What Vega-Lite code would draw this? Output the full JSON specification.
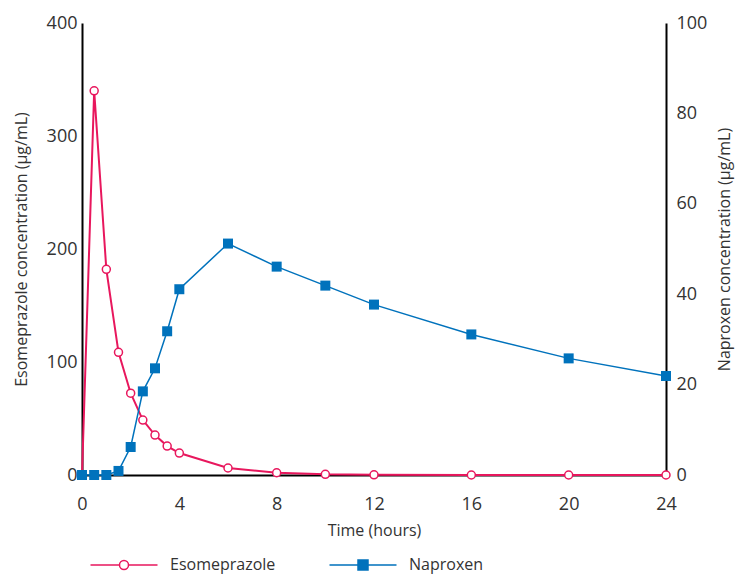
{
  "$schema": "https://vega.github.io/schema/vega-lite/v6.json",
  "width": 584,
  "height": 452,
  "autosize": "none",
  "padding": {"left": 82, "top": 23, "right": 69, "bottom": 100},
  "config": {
    "font": "Open Sans",
    "view": {"stroke": null},
    "axis": {
      "grid": false,
      "ticks": false,
      "labelFlush": false,
      "domainColor": "#000000",
      "domainWidth": 2,
      "labelColor": "#333333",
      "labelFontSize": 18,
      "titleFontSize": 16,
      "titleColor": "#333333",
      "titleFontWeight": "normal"
    }
  },
  "data": {
    "values": [
      {"drug": "Esomeprazole", "time": 0, "conc": 0},
      {"drug": "Esomeprazole", "time": 0.5, "conc": 340},
      {"drug": "Esomeprazole", "time": 1, "conc": 182},
      {"drug": "Esomeprazole", "time": 1.5, "conc": 108.6},
      {"drug": "Esomeprazole", "time": 2, "conc": 72.4},
      {"drug": "Esomeprazole", "time": 2.5, "conc": 48.6},
      {"drug": "Esomeprazole", "time": 3, "conc": 35.3},
      {"drug": "Esomeprazole", "time": 3.5, "conc": 25.6},
      {"drug": "Esomeprazole", "time": 4, "conc": 19.4},
      {"drug": "Esomeprazole", "time": 6, "conc": 6.2},
      {"drug": "Esomeprazole", "time": 8, "conc": 2},
      {"drug": "Esomeprazole", "time": 10, "conc": 0.6},
      {"drug": "Esomeprazole", "time": 12, "conc": 0.2},
      {"drug": "Esomeprazole", "time": 16, "conc": 0},
      {"drug": "Esomeprazole", "time": 20, "conc": 0},
      {"drug": "Esomeprazole", "time": 24, "conc": 0},
      {"drug": "Naproxen", "time": 0, "conc": 0},
      {"drug": "Naproxen", "time": 0.5, "conc": 0},
      {"drug": "Naproxen", "time": 1, "conc": 0},
      {"drug": "Naproxen", "time": 1.5, "conc": 0.9},
      {"drug": "Naproxen", "time": 2, "conc": 6.2},
      {"drug": "Naproxen", "time": 2.5, "conc": 18.5},
      {"drug": "Naproxen", "time": 3, "conc": 23.6},
      {"drug": "Naproxen", "time": 3.5, "conc": 31.8},
      {"drug": "Naproxen", "time": 4, "conc": 41.1},
      {"drug": "Naproxen", "time": 6, "conc": 51.2},
      {"drug": "Naproxen", "time": 8, "conc": 46.1},
      {"drug": "Naproxen", "time": 10, "conc": 41.9},
      {"drug": "Naproxen", "time": 12, "conc": 37.7},
      {"drug": "Naproxen", "time": 16, "conc": 31.1},
      {"drug": "Naproxen", "time": 20, "conc": 25.8},
      {"drug": "Naproxen", "time": 24, "conc": 21.9}
    ]
  },
  "encoding": {
    "x": {
      "field": "time",
      "type": "quantitative",
      "scale": {"domain": [0, 24], "nice": false},
      "axis": {"values": [0, 4, 8, 12, 16, 20, 24], "title": "Time (hours)", "labelPadding": 20, "titlePadding": 9}
    }
  },
  "layer": [
    {
      "transform": [{"filter": "datum.drug === 'Esomeprazole'"}],
      "encoding": {
        "y": {
          "field": "conc",
          "type": "quantitative",
          "scale": {"domain": [0, 400], "nice": false},
          "axis": {"orient": "left", "values": [0, 100, 200, 300, 400], "title": "Esomeprazole concentration (μg/mL)", "labelPadding": 5, "titlePadding": 17}
        }
      },
      "layer": [
        {
          "mark": {"type": "line", "strokeWidth": 2},
          "encoding": {
            "color": {
              "field": "drug",
              "type": "nominal",
              "scale": {"domain": ["Esomeprazole", "Naproxen"], "range": ["#E8175D", "#0072BC"]},
              "legend": {
                "title": null,
                "orient": "none",
                "direction": "horizontal",
                "legendX": 34,
                "legendY": 534,
                "padding": 0,
                "symbolSize": 100,
                "symbolStrokeWidth": 1.5,
                "labelOffset": 38,
                "columnPadding": 50,
                "labelFontSize": 16,
                "labelColor": "#333333",
                "encode": {
                  "symbols": {
                    "update": {
                      "shape": {"signal": "datum.value === 'Esomeprazole' ? 'M-6.7,0H-0.9M0.9,0H6.7M0.9,0A0.9,0.9,0,1,1,-0.9,0A0.9,0.9,0,1,1,0.9,0Z' : 'M-6.7,0H-1M1,0H6.7M-1,-1H1V1H-1Z'"},
                      "fill": {"signal": "datum.value === 'Esomeprazole' ? '#ffffff' : '#0072BC'"},
                      "stroke": {"signal": "datum.value === 'Esomeprazole' ? '#E8175D' : '#0072BC'"},
                      "strokeWidth": {"value": 1.5},
                      "opacity": {"value": 1}
                    }
                  }
                }
              }
            }
          }
        },
        {
          "mark": {"type": "point", "shape": "circle", "fill": "#ffffff", "stroke": "#E8175D", "strokeWidth": 1.5, "size": 64, "opacity": 1}
        }
      ]
    },
    {
      "transform": [{"filter": "datum.drug === 'Naproxen'"}],
      "encoding": {
        "y": {
          "field": "conc",
          "type": "quantitative",
          "scale": {"domain": [0, 100], "nice": false},
          "axis": {"orient": "right", "values": [0, 20, 40, 60, 80, 100], "title": "Naproxen concentration (μg/mL)", "titleAngle": 270, "labelPadding": 10, "titlePadding": 26}
        }
      },
      "layer": [
        {
          "mark": {"type": "line", "strokeWidth": 1.5},
          "encoding": {
            "color": {"field": "drug", "type": "nominal"}
          }
        },
        {
          "mark": {"type": "point", "shape": "square", "filled": true, "fill": "#0072BC", "size": 100, "opacity": 1}
        }
      ]
    }
  ],
  "resolve": {"scale": {"y": "independent"}}
}
